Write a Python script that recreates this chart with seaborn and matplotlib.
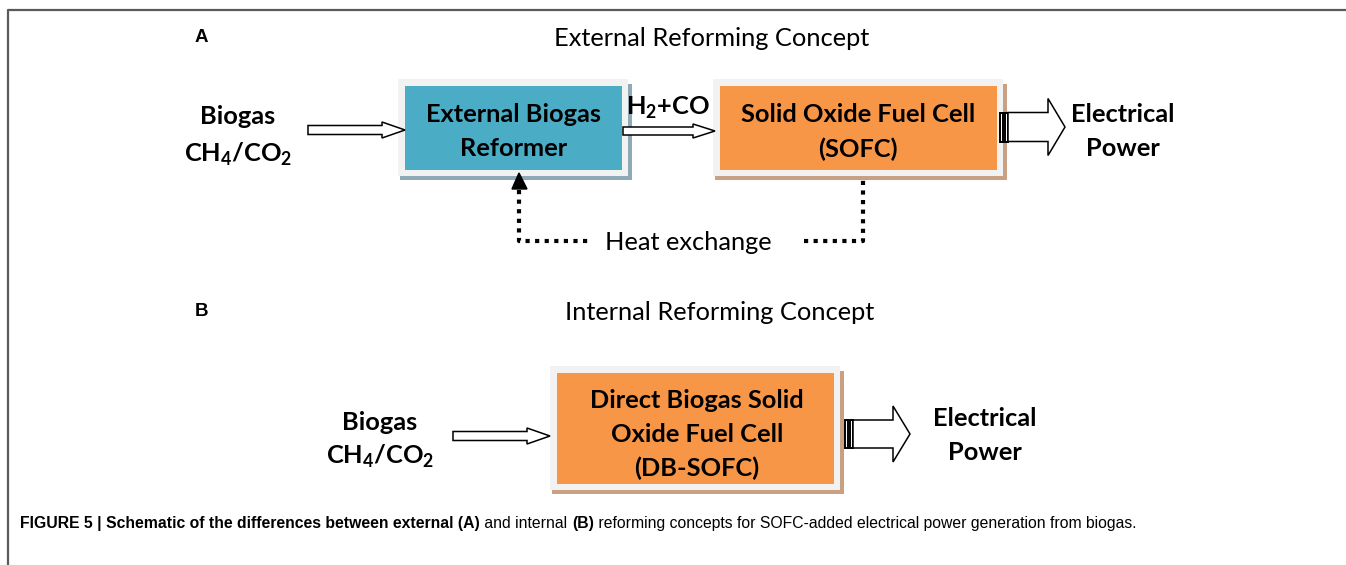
import matplotlib
matplotlib.use("Agg")
import matplotlib.pyplot as plt
import seaborn as sns
from matplotlib.patches import Rectangle, Polygon

# TEXT CONTENT
panel_letters = ["A", "B"]
panel_titles = ["External Reforming Concept", "Internal Reforming Concept"]
feed_label = ["Biogas", "CH$_\\mathregular{4}$/CO$_\\mathregular{2}$"]
output_label = ["Electrical", "Power"]
reformer_label = ["External Biogas", "Reformer"]
sofc_label = ["Solid Oxide Fuel Cell", "(SOFC)"]
dbsofc_label = ["Direct Biogas Solid", "Oxide Fuel Cell", "(DB-SOFC)"]
syngas_label = "H$_\\mathregular{2}$+CO"
heat_label = "Heat exchange"
caption_parts = [
    ("FIGURE 5 | Schematic of the differences between external (A)", "bold"),
    (" and internal ", "normal"),
    ("(B)", "bold"),
    (" reforming concepts for SOFC-added electrical power generation from biogas.", "normal"),
]

# colours
teal = "#4BACC6"
teal_shadow = "#8FAAB7"
orange = "#F79646"
orange_shadow = "#C9A081"
frame_gray = "#F2F2F2"

sns.set_theme(style="white")
plt.rcParams["font.family"] = ["Lato", "DejaVu Sans"]
plt.rcParams["text.color"] = "black"
plt.rcParams["mathtext.fontset"] = "custom"

FS = 18.3  # diagram font size

W, H = 1346, 565
fig = plt.figure(figsize=(W / 100, H / 100), dpi=100)
ax = fig.add_axes([0, 0, 1, 1])
ax.set_xlim(0, W)
ax.set_ylim(H, 0)
ax.axis("off")

# outer frame (top + left only)
ax.plot([8, 8, W], [H, 10, 10], color="#5a5a5a", lw=1.6, solid_capstyle="butt")


def block(x0, y0, x1, y1, fill, shadow):
    # shadow, light frame, then the coloured box
    ax.add_patch(Rectangle((x0 - 5, y0 - 2), x1 - x0 + 15, y1 - y0 + 12, color=shadow, lw=0, zorder=1))
    ax.add_patch(Rectangle((x0 - 7, y0 - 7), x1 - x0 + 13, y1 - y0 + 13, color=frame_gray, lw=0, zorder=2))
    ax.add_patch(Rectangle((x0, y0), x1 - x0, y1 - y0, color=fill, lw=0, zorder=3))


def block_arrow(x0, x1, y, shaft, head, head_len, lw=1.1):
    pts = [(x0, y - shaft / 2), (x1 - head_len, y - shaft / 2), (x1 - head_len, y - head / 2),
           (x1, y), (x1 - head_len, y + head / 2), (x1 - head_len, y + shaft / 2), (x0, y + shaft / 2)]
    ax.add_patch(Polygon(pts, closed=True, facecolor="white", edgecolor="black", lw=lw, zorder=4))


def power_arrow(x0, x1, y, shaft, head, head_len):
    # striped base + fat hollow arrow
    ax.add_patch(Rectangle((x0, y - shaft / 2), 8, shaft, facecolor="white", edgecolor="black", lw=1.4, zorder=4))
    for xx in (x0 + 2.7, x0 + 5.4):
        ax.plot([xx, xx], [y - shaft / 2, y + shaft / 2], color="black", lw=1.4, zorder=5)
    block_arrow(x0 + 8, x1, y, shaft, head, head_len, lw=1.1)


def lines(x, ys, labels, size=FS, weight="bold"):
    for yy, lab in zip(ys, labels):
        ax.text(x, yy, lab, ha="center", va="center", fontsize=size, fontweight=weight, zorder=6)


# ---------------- PANEL A ----------------
ax.text(201, 38, panel_letters[0], ha="center", va="center", fontsize=13.5, fontweight="bold",
        family=["Liberation Sans", "DejaVu Sans"])
ax.text(712, 38, panel_titles[0], ha="center", va="center", fontsize=FS)

lines(238, [117, 154], feed_label)
block_arrow(308, 405, 130, 9, 16, 23)

block(405, 86, 622, 170, teal, teal_shadow)
lines(514, [114, 148], reformer_label)

ax.text(668, 108, syngas_label, ha="center", va="center", fontsize=FS, fontweight="bold")
block_arrow(623, 715, 131, 8, 14, 22)

block(720, 86, 997, 170, orange, orange_shadow)
lines(858, [114, 149], sofc_label)

power_arrow(1000, 1065, 127, 29, 57, 17)
lines(1123, [114, 148], output_label)

# heat exchange loop (dotted)
dot = dict(color="black", lw=3.0, linestyle=(0, (1, 1.3)), zorder=4)
ax.plot([519, 519, 588], [190, 241, 241], **dot)
ax.plot([804, 863, 863], [241, 241, 176], **dot)
ax.add_patch(Polygon([(519, 173), (512, 189), (527, 189)], closed=True, color="black", zorder=5))
ax.text(688, 243, heat_label, ha="center", va="center", fontsize=FS)

# ---------------- PANEL B ----------------
ax.text(201, 311, panel_letters[1], ha="center", va="center", fontsize=13.5, fontweight="bold",
        family=["Liberation Sans", "DejaVu Sans"])
ax.text(720, 312, panel_titles[1], ha="center", va="center", fontsize=FS)

lines(380, [423, 456], feed_label)
block_arrow(453, 550, 436, 9, 16, 23)

block(557, 373, 834, 484, orange, orange_shadow)
lines(697, [401, 435, 468], dbsofc_label)

power_arrow(845, 910, 434, 28, 56, 17)
lines(985, [419, 453], output_label)

# ---------------- CAPTION ----------------
fig.canvas.draw()
renderer = fig.canvas.get_renderer()
x = 20
for txt, wt in caption_parts:
    t = ax.text(x, 528, txt, ha="left", va="baseline", fontsize=11.3, fontweight=wt,
                family=["Liberation Sans", "DejaVu Sans"])
    bb = t.get_window_extent(renderer)
    x += bb.width
    if txt.endswith(" "):
        x += 1

fig.savefig("out.png", dpi=100)
